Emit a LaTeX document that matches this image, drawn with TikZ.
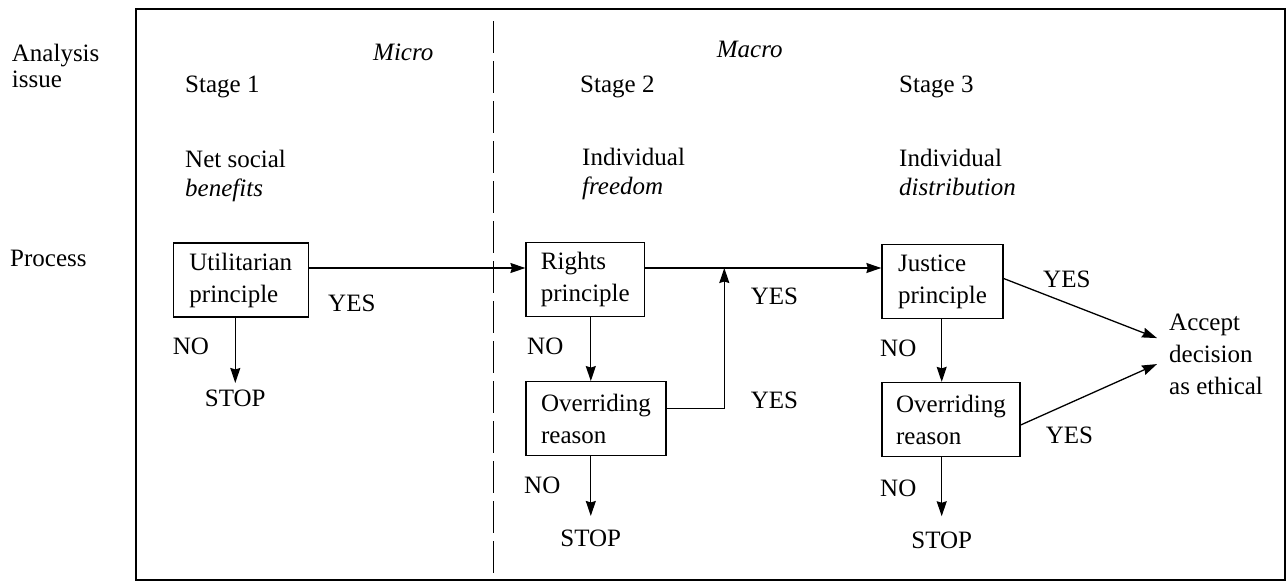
\documentclass[tikz,border=0pt]{standalone}
\usepackage{fontspec}
\setmainfont{Liberation Serif}
\usetikzlibrary{arrows.meta}
\begin{document}
\begin{tikzpicture}[x=1pt,y=-1pt,
  every node/.style={font=\fontsize{25}{29}\selectfont},
  lbl/.style={anchor=base west, inner sep=0pt, align=left},
  sidelbl/.style={lbl, font=\fontsize{25}{26}\selectfont},
  procbox/.style={draw, line width=1.3pt, minimum height=74pt, inner xsep=12pt,
    align=left, font=\fontsize{25}{32}\selectfont},
  stopnode/.style={anchor=base, inner xsep=0pt},
  flow/.style={line width=1.3pt, -{Stealth[length=15pt,width=10pt,inset=1.5pt]}},
  frame/.style={line width=1.5pt},
  divider/.style={line width=1.2pt, dash pattern=on 32pt off 8pt}
]
\useasboundingbox (0,0) rectangle (1287,584);

% outer frame and the micro/macro divider
\draw[frame] (136,9) rectangle (1285,580);
\draw[divider] (493.3,21) -- (493.3,580);

% row headings on the left (multi-line nodes sit on their last baseline)
\node[sidelbl] (hdanalysis) at (11.7,87.3) {Analysis\\issue};
\node[sidelbl] (hdprocess) at (10,266.7) {Process};

% level headings
\node[lbl] (micro) at (373,60) {\itshape Micro};
\node[lbl] (macro) at (716.7,57) {\itshape Macro};

% stage headings
\node[lbl] (st1) at (185,92) {Stage 1};
\node[lbl] (st2) at (580,92) {Stage 2};
\node[lbl] (st3) at (899,92) {Stage 3};

\node[lbl] (is1) at (185,196) {Net social\\\itshape benefits};
\node[lbl] (is2) at (582,194) {Individual\\\itshape freedom};
\node[lbl] (is3) at (899,195) {Individual\\\itshape distribution};

% decision boxes
\node[procbox, minimum width=135pt] (util) at (240.8,280) {Utilitarian\\principle};
\node[procbox, minimum width=118.5pt] (rights) at (585.3,279.3) {Rights\\principle};
\node[procbox, minimum width=140pt] (over1) at (596,418.7) {Overriding\\reason};
\node[procbox, minimum width=121pt] (justice) at (942.5,281.5) {Justice\\principle};
\node[procbox, minimum width=138pt] (over2) at (951,419.5) {Overriding\\reason};

% terminal outcomes
\node[stopnode, inner ysep=7pt] (stop1) at (235.3,406.7) {STOP};
\node[stopnode, inner ysep=14pt] (stop2) at (590.8,546.7) {STOP};
\node[stopnode, inner ysep=15pt] (stop3) at (941.7,548) {STOP};
\node[lbl, inner xsep=12pt, inner ysep=0pt, font=\fontsize{25}{32}\selectfont]
  (accept) at (1157,394) {Accept\\decision\\as ethical};

% branch labels
\node[lbl] (yes1) at (328,311) {YES};
\node[lbl] (no1) at (172.7,354) {NO};
\node[lbl] (no2) at (527,354.5) {NO};
\node[lbl] (yes2) at (750.7,304.7) {YES};
\node[lbl] (yes3) at (750.7,408) {YES};
\node[lbl] (no4) at (524,493.3) {NO};
\node[lbl] (no3) at (880,356) {NO};
\node[lbl] (yes4) at (1043,287) {YES};
\node[lbl] (yes5) at (1045.7,443.3) {YES};
\node[lbl] (no5) at (880,496) {NO};

% connectors
\coordinate (row) at (0,268);
\coordinate (join) at (724.3,268);
\coordinate (turn) at (724.3,408.3);

\draw[flow] (util.east |- row) -- (rights.west |- row);
\draw[flow] (rights.east |- row) -- (justice.west |- row);
\draw[flow] (over1.east |- turn) -- (turn) -- (join);

\draw[flow] (stop1 |- util.south) -- (stop1.north);
\draw[flow] (stop2 |- rights.south) -- (stop2 |- over1.north);
\draw[flow] (stop2 |- over1.south) -- (stop2.north);
\draw[flow] (stop3 |- justice.south) -- (stop3 |- over2.north);
\draw[flow] (stop3 |- over2.south) -- (stop3.north);

\draw[flow] ([yshift=3pt]justice.east) -- ([yshift=15.8pt]accept.west);
\draw[flow] ([yshift=-5.5pt]over2.east) -- ([yshift=-10.2pt]accept.west);
\end{tikzpicture}
\end{document}
